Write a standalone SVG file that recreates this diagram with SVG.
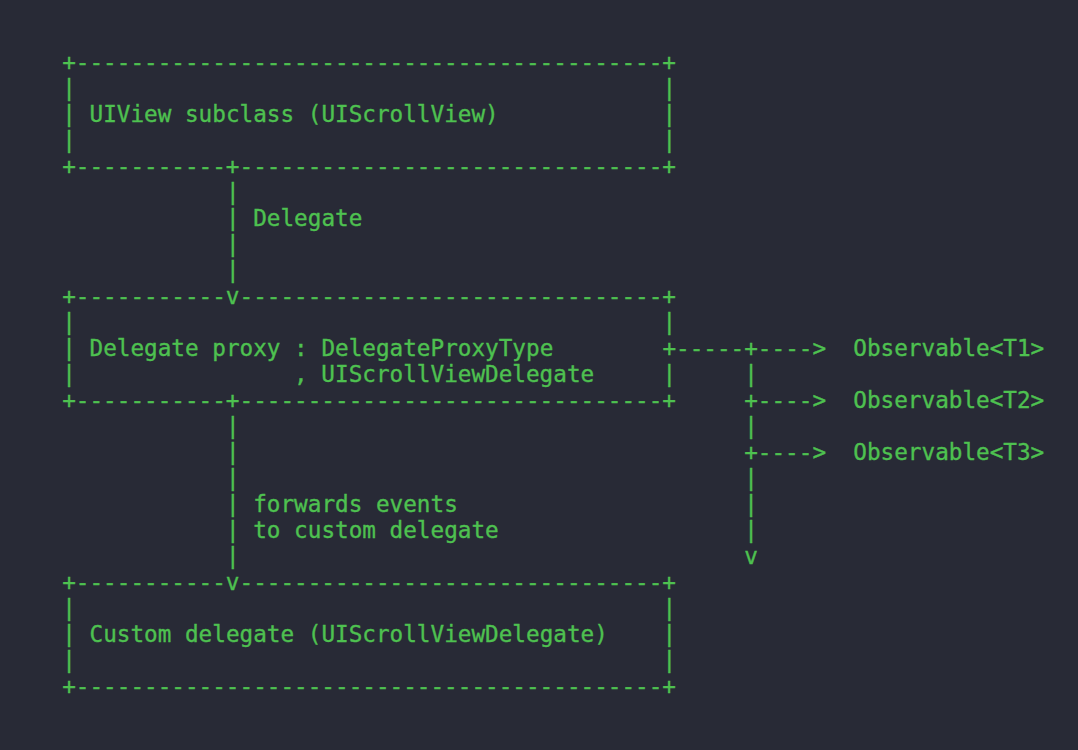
<svg xmlns="http://www.w3.org/2000/svg" width="1078" height="750" viewBox="0 0 1078 750">
<style>
text{font-family:"DejaVu Sans Mono","Liberation Mono",monospace;font-size:22.66px;fill:#4ec150;stroke:#4ec150;stroke-width:0.35px;white-space:pre}
</style>
<rect x="0" y="0" width="1078" height="750" fill="#282a36"/>
<g id="node-uiview">
<text x="62.2" y="70">+-------------------------------------------+</text>
<text x="62.2" y="96">|</text><text x="662.4" y="96">|</text>
<text x="62.2" y="122">|</text><text x="89.5" y="122">UIView subclass (UIScrollView)</text><text x="662.4" y="122">|</text>
<text x="62.2" y="148">|</text><text x="662.4" y="148">|</text>
<text x="62.2" y="174">+-----------+-------------------------------+</text>
</g>
<g id="node-proxy">
<text x="62.2" y="304">+-----------v-------------------------------+</text>
<text x="62.2" y="330">|</text><text x="662.4" y="330">|</text>
<text x="62.2" y="356">|</text><text x="89.5" y="356">Delegate proxy : DelegateProxyType</text>
<text x="62.2" y="382">|</text><text x="294.1" y="382">, UIScrollViewDelegate</text><text x="662.4" y="382">|</text>
<text x="62.2" y="408">+-----------+-------------------------------+</text>
</g>
<g id="node-custom">
<text x="62.2" y="590">+-----------v-------------------------------+</text>
<text x="62.2" y="616">|</text><text x="662.4" y="616">|</text>
<text x="62.2" y="642">|</text><text x="89.5" y="642">Custom delegate (UIScrollViewDelegate)</text><text x="662.4" y="642">|</text>
<text x="62.2" y="668">|</text><text x="662.4" y="668">|</text>
<text x="62.2" y="694">+-------------------------------------------+</text>
</g>
<g id="node-t1"><text x="853.3" y="356">Observable&lt;T1&gt;</text></g>
<g id="node-t2"><text x="853.3" y="408">Observable&lt;T2&gt;</text></g>
<g id="node-t3"><text x="853.3" y="460">Observable&lt;T3&gt;</text></g>
<g id="connectors">
<text x="225.9" y="200">|</text>
<text x="225.9" y="226">|</text><text x="253.2" y="226">Delegate</text>
<text x="225.9" y="252">|</text>
<text x="225.9" y="278">|</text>
<text x="225.9" y="434">|</text>
<text x="225.9" y="460">|</text>
<text x="225.9" y="486">|</text>
<text x="225.9" y="512">|</text><text x="253.2" y="512">forwards events</text>
<text x="225.9" y="538">|</text><text x="253.2" y="538">to custom delegate</text>
<text x="225.9" y="564">|</text>
<text x="662.4" y="356">+-----+----&gt;</text>
<text x="744.2" y="382">|</text>
<text x="744.2" y="408">+----&gt;</text>
<text x="744.2" y="434">|</text>
<text x="744.2" y="460">+----&gt;</text>
<text x="744.2" y="486">|</text>
<text x="744.2" y="512">|</text>
<text x="744.2" y="538">|</text>
<text x="744.2" y="564">v</text>
</g>
</svg>
